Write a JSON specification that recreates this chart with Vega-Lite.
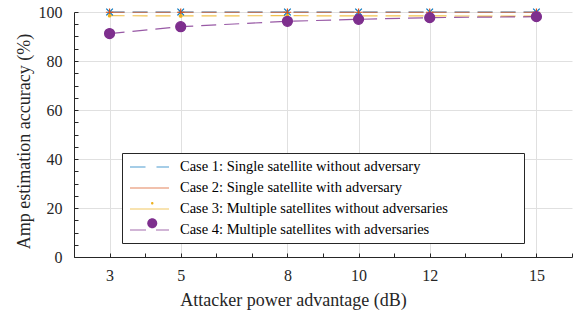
{
  "$schema": "https://vega.github.io/schema/vega-lite/v6.json",
  "width": 498,
  "height": 245,
  "autosize": "none",
  "padding": {"left": 74, "top": 12, "right": 1, "bottom": 56},
  "background": "white",
  "config": {"font": "Liberation Serif", "view": {"stroke": null}},
  "data": {
    "values": [
      {"adv": 3, "acc": 100, "series": "Case 1: Single satellite without adversary"},
      {"adv": 5, "acc": 100, "series": "Case 1: Single satellite without adversary"},
      {"adv": 8, "acc": 100, "series": "Case 1: Single satellite without adversary"},
      {"adv": 10, "acc": 100, "series": "Case 1: Single satellite without adversary"},
      {"adv": 12, "acc": 100, "series": "Case 1: Single satellite without adversary"},
      {"adv": 15, "acc": 100, "series": "Case 1: Single satellite without adversary"},
      {"adv": 3, "acc": 99.9, "series": "Case 2: Single satellite with adversary"},
      {"adv": 5, "acc": 99.9, "series": "Case 2: Single satellite with adversary"},
      {"adv": 8, "acc": 99.9, "series": "Case 2: Single satellite with adversary"},
      {"adv": 10, "acc": 99.9, "series": "Case 2: Single satellite with adversary"},
      {"adv": 12, "acc": 99.9, "series": "Case 2: Single satellite with adversary"},
      {"adv": 15, "acc": 99.9, "series": "Case 2: Single satellite with adversary"},
      {"adv": 3, "acc": 98.5, "series": "Case 3: Multiple satellites without adversaries"},
      {"adv": 5, "acc": 98.4, "series": "Case 3: Multiple satellites without adversaries"},
      {"adv": 8, "acc": 98.5, "series": "Case 3: Multiple satellites without adversaries"},
      {"adv": 10, "acc": 98.4, "series": "Case 3: Multiple satellites without adversaries"},
      {"adv": 12, "acc": 98.4, "series": "Case 3: Multiple satellites without adversaries"},
      {"adv": 15, "acc": 98.3, "series": "Case 3: Multiple satellites without adversaries"},
      {"adv": 3, "acc": 91.2, "series": "Case 4: Multiple satellites with adversaries"},
      {"adv": 5, "acc": 94.0, "series": "Case 4: Multiple satellites with adversaries"},
      {"adv": 8, "acc": 96.2, "series": "Case 4: Multiple satellites with adversaries"},
      {"adv": 10, "acc": 97.0, "series": "Case 4: Multiple satellites with adversaries"},
      {"adv": 12, "acc": 97.7, "series": "Case 4: Multiple satellites with adversaries"},
      {"adv": 15, "acc": 98.1, "series": "Case 4: Multiple satellites with adversaries"}
    ]
  },
  "encoding": {
    "x": {
      "field": "adv",
      "type": "quantitative",
      "scale": {"domain": [2, 16], "nice": false, "zero": false},
      "axis": {
        "values": [2, 2.5, 3, 3.5, 4, 4.5, 5, 5.5, 6, 6.5, 7, 7.5, 8, 8.5, 9, 9.5, 10, 10.5, 11, 11.5, 12, 12.5, 13, 13.5, 14, 14.5, 15, 15.5, 16],
        "format": "d",
        "labelExpr": "indexof([3,5,8,10,12,15], datum.value) >= 0 ? datum.label : ''",
        "grid": true,
        "gridColor": "#e0e0e0",
        "gridWidth": 1,
        "gridOpacity": {"condition": {"test": "indexof([3,5,8,10,12,15], datum.value) >= 0", "value": 1}, "value": 0},
        "tickSize": -4,
        "tickColor": "#262626",
        "domainColor": "#262626",
        "labelFont": "Liberation Serif",
        "labelFontSize": 16,
        "labelColor": "#262626",
        "labelPadding": 14,
        "labelOverlap": false,
        "labelFlush": false,
        "labelBound": false,
        "title": "Attacker power advantage (dB)",
        "titleFont": "Liberation Serif",
        "titleFontSize": 18,
        "titleFontWeight": "normal",
        "titleColor": "#262626",
        "titleX": 219,
        "titleY": 43,
        "titleBaseline": "middle",
        "titleAlign": "center"
      }
    },
    "y": {
      "field": "acc",
      "type": "quantitative",
      "scale": {"domain": [0, 100], "nice": false},
      "axis": {
        "values": [0, 5, 10, 15, 20, 25, 30, 35, 40, 45, 50, 55, 60, 65, 70, 75, 80, 85, 90, 95, 100],
        "labelExpr": "datum.value % 20 === 0 ? datum.label : ''",
        "grid": true,
        "gridColor": "#e0e0e0",
        "gridWidth": 1,
        "gridOpacity": {"condition": {"test": "datum.value % 20 === 0 && datum.value > 0", "value": 1}, "value": 0},
        "tickSize": -4,
        "tickColor": "#262626",
        "domainColor": "#262626",
        "labelFont": "Liberation Serif",
        "labelFontSize": 16,
        "labelColor": "#262626",
        "labelPadding": 16,
        "labelOverlap": false,
        "labelBound": false,
        "title": "Amp estimation accuracy (%)",
        "titleFont": "Liberation Serif",
        "titleFontSize": 18,
        "titleFontWeight": "normal",
        "titleColor": "#262626",
        "titleX": -50,
        "titleY": 129,
        "titleBaseline": "middle",
        "titleAlign": "center",
        "titleAngle": -90
      }
    }
  },
  "layer": [
    {
      "mark": {"type": "line", "strokeDash": [15, 8], "strokeWidth": 1.2, "opacity": 0.8},
      "encoding": {
        "stroke": {
          "field": "series",
          "type": "nominal",
          "scale": {"range": ["#0072BD", "#D95319", "#EDB120", "#7E2F8E"]},
          "legend": {
            "orient": "none",
            "legendX": 48,
            "legendY": 141,
            "title": null,
            "padding": 3,
            "symbolSize": 400,
            "rowPadding": 0,
            "labelOffset": 33,
            "labelFont": "Liberation Serif",
            "labelFontSize": 14.5,
            "labelColor": "#000000",
            "labelLimit": 0,
            "labelExpr": "datum.label + '\u00a0\u00a0\u00a0\u00a0\u00a0\u00a0\u00a0\u00a0\u00a0\u00a0\u00a0\u00a0\u00a0\u00a0\u00a0\u00a0\u00a0\u00a0\u00a0\u00a0\u200b'",
            "strokeColor": "#262626",
            "fillColor": "white",
            "symbolType": "M-0.6,0H3.3M1.5,-0.7M1.5,0.7",
            "symbolStrokeWidth": 1.2,
            "symbolOpacity": 0.7,
            "encode": {
              "symbols": {
                "update": {
                  "shape": {"signal": "['M-0.6,0H0.95M2.05,0H3.3M1.5,-0.7M1.5,0.7','M-0.6,0H3.3M1.5,-0.7M1.5,0.7','M-0.6,0H3.3M1.5,-0.7M1.5,0.7','M-0.6,0H1.0M2.0,0H3.3M1.5,-0.7M1.5,0.7'][datum.index]"},
                  "strokeDash": {"value": [1, 0]}
                }
              }
            }
          }
        }
      }
    },
    {
      "transform": [{"filter": "datum.acc >= 0"}],
      "mark": {"type": "point", "size": 100, "filled": true, "strokeWidth": 1.2, "opacity": 1},
      "encoding": {
        "stroke": {"field": "series", "type": "nominal", "legend": null},
        "fill": {
          "field": "series",
          "type": "nominal",
          "scale": {"range": ["transparent", "transparent", "#EDB120", "#7E2F8E"]},
          "legend": null
        },
        "shape": {
          "field": "series",
          "type": "nominal",
          "scale": {
            "range": [
              "M-0.66,-0.66L0.66,0.66M-0.66,0.66L0.66,-0.66M0,-1.4M0,1.4",
              "M-0.75,0H0.75M0,-0.75V0.75M0,-1.4M0,1.4",
              "M0.25,0A0.25,0.25,0,1,1,-0.25,0A0.25,0.25,0,1,1,0.25,0ZM0,-1.4M0,1.4",
              "M1,0A1,1,0,1,1,-1,0A1,1,0,1,1,1,0ZM0,-1.4M0,1.4"
            ]
          },
          "legend": {
            "orient": "none",
            "legendX": 71,
            "legendY": 144,
            "title": null,
            "padding": 0,
            "symbolSize": 100,
            "rowPadding": 0,
            "labelFontSize": 14.5,
            "labelExpr": "''",
            "symbolStrokeWidth": 1.2,
            "encode": {
              "symbols": {
                "update": {
                  "stroke": {"signal": "['#0072BD','#D95319','#EDB120','#7E2F8E'][datum.index]"},
                  "fill": {"signal": "['transparent','transparent','#EDB120','#7E2F8E'][datum.index]"},
                  "size": {"value": 100},
                  "strokeWidth": {"value": 1.2},
                  "opacity": {"value": 1}
                }
              }
            }
          }
        }
      }
    }
  ]
}
